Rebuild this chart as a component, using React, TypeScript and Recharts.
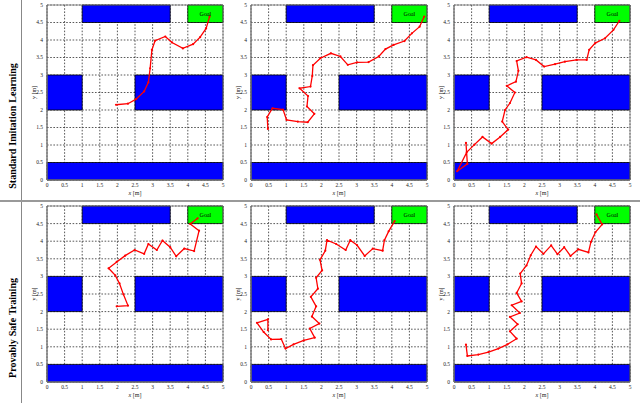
import { ScatterChart, Scatter, XAxis, YAxis, CartesianGrid, ReferenceArea } from "recharts";

const axisTicks = [0, 0.5, 1, 1.5, 2, 2.5, 3, 3.5, 4, 4.5, 5];

const rowTitles = ["Standard Imitation Learning", "Provably Safe Training"];

// obstacles (blue) and goal (green), in metres
const obstacles = [
  { x1: 1, x2: 3.5, y1: 4.5, y2: 5 },
  { x1: 0, x2: 1, y1: 2, y2: 3 },
  { x1: 2.5, x2: 5, y1: 2, y2: 3 },
  { x1: 0, x2: 5, y1: 0, y2: 0.5 },
];
const goal = { x1: 4, x2: 5, y1: 4.5, y2: 5 };

// standard imitation learning runs
const silPath1 = [
  [1.96, 2.15], [2.3, 2.18], [2.53, 2.31], [2.76, 2.53], [2.88, 2.79], [2.93, 3.19], [2.98, 3.72],
  [3.07, 3.98], [3.36, 4.1], [3.55, 3.93], [3.86, 3.76], [4.15, 3.88], [4.35, 4.08], [4.52, 4.33], [4.62, 4.67],
];
const silPath2 = [
  [0.48, 1.46], [0.46, 1.8], [0.61, 2.05], [0.91, 2.01], [1.01, 1.72], [1.33, 1.67], [1.61, 1.65],
  [1.8, 1.89], [1.59, 2.1], [1.62, 2.4], [1.38, 2.62], [1.69, 2.67], [1.74, 2.97], [1.76, 3.28],
  [1.97, 3.48], [2.27, 3.62], [2.54, 3.53], [2.75, 3.29], [3.01, 3.36], [3.34, 3.37], [3.63, 3.53],
  [3.82, 3.74], [4.05, 3.86], [4.36, 3.97], [4.57, 4.19], [4.79, 4.38], [4.92, 4.67],
];
const silPath3 = [
  [0.34, 1.06], [0.38, 0.46], [0.09, 0.25], [0.36, 0.79], [0.58, 1.01], [0.81, 1.23], [1.07, 1.04],
  [1.31, 1.23], [1.54, 1.44], [1.37, 1.67], [1.45, 2.0], [1.59, 2.2], [1.73, 2.5], [1.5, 2.69],
  [1.76, 2.81], [1.83, 3.12], [1.78, 3.4], [2.06, 3.51], [2.33, 3.43], [2.56, 3.24], [2.87, 3.31],
  [3.15, 3.38], [3.48, 3.43], [3.77, 3.43], [3.84, 3.72], [4.01, 3.91], [4.29, 4.05], [4.53, 4.29], [4.7, 4.55],
];

// provably safe training runs
const pstPath1 = [
  [1.98, 2.15], [2.3, 2.17], [2.17, 2.49], [2.06, 2.8], [1.94, 3.03], [1.75, 3.23], [1.98, 3.41],
  [2.22, 3.59], [2.49, 3.75], [2.76, 3.64], [2.88, 3.92], [3.12, 3.75], [3.28, 4.02], [3.5, 3.83],
  [3.67, 3.57], [3.9, 3.79], [4.18, 3.72], [4.32, 4.3], [4.07, 4.49], [4.28, 4.65],
];
const pstPath2 = [
  [0.48, 1.47], [0.48, 1.78], [0.17, 1.68], [0.36, 1.42], [0.57, 1.21], [0.86, 1.22], [0.98, 0.95],
  [1.21, 1.07], [1.5, 1.18], [1.81, 1.26], [1.67, 1.52], [1.94, 1.66], [1.73, 1.86], [1.85, 2.15],
  [1.7, 2.42], [1.9, 2.65], [1.85, 2.96], [2.02, 3.17], [1.96, 3.47], [2.11, 3.73], [2.16, 4.03],
  [2.42, 3.92], [2.69, 3.75], [2.82, 4.03], [3.01, 3.89], [3.23, 3.58], [3.46, 3.79], [3.74, 3.73],
  [3.79, 4.03], [3.91, 4.28], [4.08, 4.57],
];
const pstPath3 = [
  [0.34, 1.06], [0.38, 0.74], [0.69, 0.78], [0.98, 0.85], [1.26, 0.95], [1.52, 1.07], [1.78, 1.23],
  [1.59, 1.44], [1.81, 1.64], [1.59, 1.85], [1.87, 1.96], [1.64, 2.18], [1.92, 2.29], [1.78, 2.53],
  [1.92, 2.8], [1.88, 3.08], [2.06, 3.31], [2.18, 3.6], [2.33, 3.85], [2.54, 3.64], [2.76, 3.88],
  [2.94, 3.63], [3.13, 3.83], [3.31, 3.58], [3.53, 3.77], [3.82, 3.68], [3.89, 3.98], [4.02, 4.26],
  [4.21, 4.48], [4.05, 4.76],
];

const rows = [
  [silPath1, silPath2, silPath3],
  [pstPath1, pstPath2, pstPath3],
];

const colLeft = [47, 251, 454];
const rowTop = [5, 206];
const plotW = 176;
const plotH = [175, 176];

const serif = "'Liberation Serif', 'DejaVu Serif', serif";
const tickStyle = { fontSize: 5.5, fill: "#222", fontFamily: serif };

const Dot = (props: any) => <circle cx={props.cx} cy={props.cy} r={1.1} fill="#ff0000" />;

const XLabel = (props: any) => {
  const vb = props.viewBox;
  return (
    <text x={vb.x + vb.width / 2} y={vb.y + 15} textAnchor="middle" fontSize={6} fill="#222" fontFamily={serif}>
      <tspan fontStyle="italic">x</tspan> [m]
    </text>
  );
};

function Panel({ path, left, top, h }: { path: number[][]; left: number; top: number; h: number }) {
  const data = path.map(([x, y]) => ({ x, y }));
  return (
    <div style={{ position: "absolute", left: left - 26, top: top - 4 }}>
      <ScatterChart width={plotW + 32} height={h + 26} margin={{ top: 4, right: 6, bottom: 0, left: 0 }}>
        <CartesianGrid stroke="#111" strokeWidth={0.7} strokeDasharray="1.6 1.6" />
        <XAxis
          type="number"
          dataKey="x"
          domain={[0, 5]}
          ticks={axisTicks}
          interval={0}
          height={22}
          tickSize={2}
          tickMargin={1}
          tick={tickStyle}
          tickLine={false}
          axisLine={{ stroke: "#777" }}
          allowDataOverflow
          label={<XLabel />}
        />
        <YAxis
          type="number"
          dataKey="y"
          domain={[0, 5]}
          ticks={axisTicks}
          interval={0}
          width={26}
          tickSize={2}
          tickMargin={2}
          tick={tickStyle}
          tickLine={false}
          axisLine={{ stroke: "#777" }}
          allowDataOverflow
          label={{ value: "y [m]", angle: -90, position: "center", fontSize: 6, fill: "#222", fontFamily: serif }}
        />
        {obstacles.map((o, i) => (
          <ReferenceArea key={i} {...o} fill="#0000ff" fillOpacity={1} stroke="#000" strokeWidth={0.8} ifOverflow="visible" />
        ))}
        <ReferenceArea
          {...goal}
          fill="#00ff00"
          fillOpacity={1}
          stroke="#000"
          strokeWidth={0.8}
          ifOverflow="visible"
          label={{ value: "Goal", position: "center", fontSize: 6, fill: "#000", fontFamily: serif }}
        />
        <ReferenceArea x1={0} x2={5} y1={0} y2={5} fill="none" stroke="#777" strokeWidth={0.8} ifOverflow="visible" />
        <Scatter
          data={data}
          line={{ stroke: "#ff0000", strokeWidth: 1.3 }}
          lineJointType="linear"
          shape={Dot}
          isAnimationActive={false}
        />
      </ScatterChart>
    </div>
  );
}

export default function App() {
  return (
    <div style={{ position: "absolute", left: 0, top: 0, width: 640, height: 403, background: "#fff", overflow: "hidden" }}>
      {rows.map((paths, r) =>
        paths.map((p, c) => <Panel key={`${r}-${c}`} path={p} left={colLeft[c]} top={rowTop[r]} h={plotH[r]} />)
      )}
      <div style={{ position: "absolute", left: 21, top: 0, width: 1, height: 403, background: "#888" }} />
      <div style={{ position: "absolute", left: 0, top: 200, width: 640, height: 2, background: "#999" }} />
      {rowTitles.map((t, i) => (
        <div
          key={t}
          style={{
            position: "absolute",
            left: 12,
            top: i === 0 ? 126 : 328,
            transform: "translate(-50%, -50%) rotate(-90deg)",
            whiteSpace: "nowrap",
            fontFamily: serif,
            fontWeight: "bold",
            fontSize: 10,
            wordSpacing: 0.5,
            color: "#000",
          }}
        >
          {t}
        </div>
      ))}
    </div>
  );
}
